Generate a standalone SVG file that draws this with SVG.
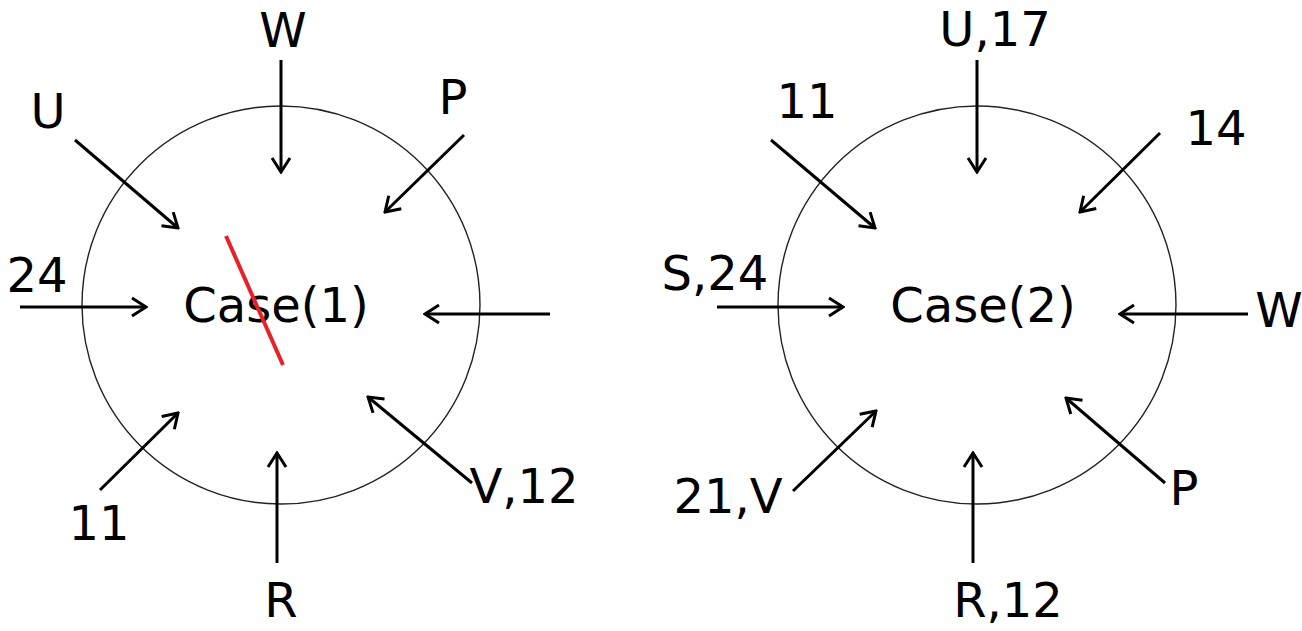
<svg xmlns="http://www.w3.org/2000/svg" width="1302" height="631" viewBox="0 0 1302 631">
<style>
.c{fill:none;stroke:#222;stroke-width:1.4}
.a{fill:none;stroke:#000;stroke-width:3;marker-end:url(#h)}
text{font-family:"DejaVu Sans","Liberation Sans",sans-serif;font-size:48px;fill:#000}
.m{text-anchor:middle}
</style>
<defs>
<marker id="h" markerUnits="userSpaceOnUse" viewBox="0 0 22 22" refX="20" refY="11" markerWidth="22" markerHeight="22" orient="auto">
<path d="M6,2 L20,11 L6,20" fill="none" stroke="#000" stroke-width="3"/>
</marker>
</defs>
<rect width="1302" height="631" fill="#fff"/>
<g id="case1">
<circle class="c" cx="281" cy="305" r="199"/>
<text class="m" x="276" y="322">Case(1)</text>
<line x1="226" y1="236" x2="283" y2="365" stroke="#e8202a" stroke-width="4"/>
</g>
<g id="case2">
<circle class="c" cx="977" cy="305" r="199"/>
<text class="m" x="983" y="322">Case(2)</text>
</g>
<g id="labels">
<text class="m" x="283" y="47">W</text>
<text class="m" x="48" y="128">U</text>
<text class="m" x="453" y="114">P</text>
<text class="m" x="37" y="292">24</text>
<text class="m" x="99" y="540">11</text>
<text class="m" x="281" y="617">R</text>
<text class="m" x="524" y="503">V,12</text>
<text class="m" x="995" y="46">U,17</text>
<text class="m" x="807" y="118">11</text>
<text class="m" x="1216" y="145">14</text>
<text class="m" x="715" y="290">S,24</text>
<text class="m" x="1279" y="327">W</text>
<text class="m" x="728" y="513">21,V</text>
<text class="m" x="1184" y="505">P</text>
<text class="m" x="1008" y="617">R,12</text>
</g>
<g id="connectors">
<line class="a" x1="281" y1="60" x2="281" y2="172"/>
<line class="a" x1="75" y1="140" x2="178" y2="228"/>
<line class="a" x1="464" y1="135" x2="385" y2="212"/>
<line class="a" x1="20" y1="307" x2="146" y2="307"/>
<line class="a" x1="550" y1="314" x2="425" y2="314"/>
<line class="a" x1="100" y1="490" x2="178" y2="413"/>
<line class="a" x1="277" y1="563" x2="277" y2="453"/>
<line class="a" x1="472" y1="483" x2="368" y2="397"/>
<line class="a" x1="977" y1="60" x2="977" y2="172"/>
<line class="a" x1="771" y1="140" x2="875" y2="228"/>
<line class="a" x1="1160" y1="133" x2="1080" y2="212"/>
<line class="a" x1="717" y1="307" x2="843" y2="307"/>
<line class="a" x1="1248" y1="314" x2="1120" y2="314"/>
<line class="a" x1="793" y1="491" x2="876" y2="411"/>
<line class="a" x1="973" y1="563" x2="973" y2="453"/>
<line class="a" x1="1165" y1="483" x2="1066" y2="398"/>
</g>
</svg>
